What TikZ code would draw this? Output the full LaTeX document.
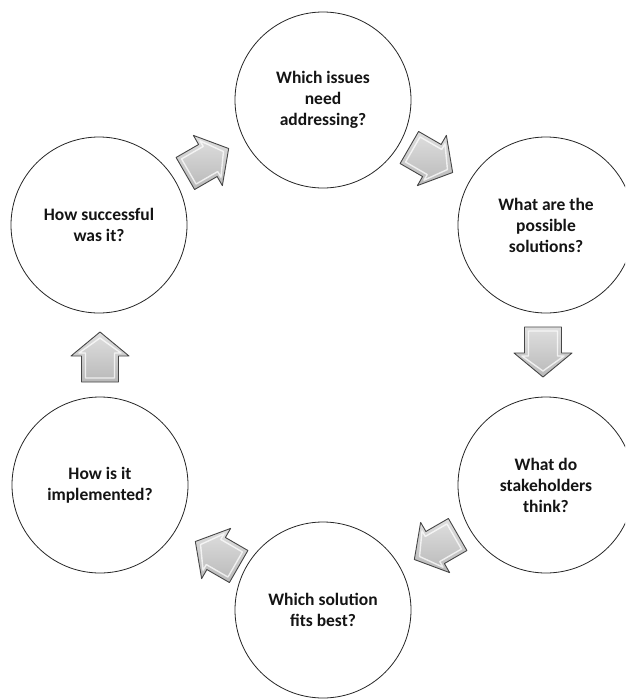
\documentclass[tikz,border=0pt]{standalone}
\usepackage{fontspec}
\setmainfont{Carlito}
\definecolor{arrowgray}{RGB}{180,180,180}
\definecolor{arrowedge}{RGB}{70,70,70}
\definecolor{txt}{RGB}{20,20,20}
\newcommand{\stagearrow}[2]{%
  \begin{scope}[shift={(#1)}, rotate=#2]
    \path[arrowbody] (-25,-18.5) -- (1,-18.5) -- (1,-29) -- (25,0) -- (1,29) -- (1,18.5) -- (-25,18.5) -- cycle;
    \path[arrowshine] (-21,-14.5) -- (4,-14.5) -- (4,-21) -- (19,0) -- (4,21) -- (4,14.5) -- (-21,14.5) -- cycle;
  \end{scope}}
\begin{document}
\begin{tikzpicture}[x=1pt,y=-1pt,
  stage/.style={circle, draw=black!85, line width=0.8pt, fill=white, minimum size=176pt,
    inner sep=0pt, align=center, text=txt, font=\bfseries\fontsize{17.5}{21}\selectfont},
  arrowbody/.style={top color=gray!25, bottom color=gray!55, draw=arrowedge, line width=0.9pt, line join=round},
  arrowshine/.style={draw=white, line width=1.4pt, opacity=0.75, line join=round}]
\clip (0,0) rectangle (625,699);
\fill[white] (0,0) rectangle (625,699);

\node[stage] (c1) at (323,100) {Which issues\\need\\addressing?};
\node[stage] (c2) at (546,225) {What are the\\possible\\solutions?};
\node[stage] (c3) at (546,485) {What do\\stakeholders\\think?};
\node[stage] (c4) at (323,610) {Which solution\\fits best?};
\node[stage] (c5) at (100,485) {How is it\\implemented?};
\node[stage] (c6) at (99,225) {How successful\\was it?};

\coordinate (a1) at (207,161);
\coordinate (a2) at (431,160);
\coordinate (a3) at (543,352);
\coordinate (a4) at (436,547);
\coordinate (a5) at (217,554);
\coordinate (a6) at (100,357);

\stagearrow{a1}{30}
\stagearrow{a2}{-30}
\stagearrow{a3}{-90}
\stagearrow{a4}{-150}
\stagearrow{a5}{150}
\stagearrow{a6}{90}
\end{tikzpicture}
\end{document}
